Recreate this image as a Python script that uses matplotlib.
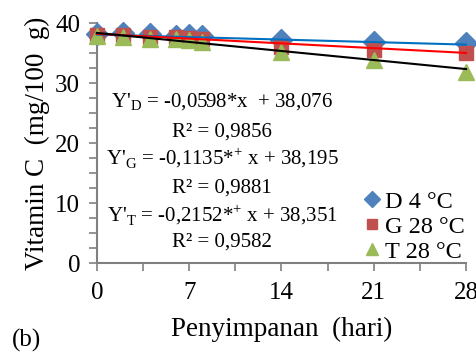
import matplotlib.pyplot as plt
import matplotlib
import numpy as np
from matplotlib.ticker import MultipleLocator

matplotlib.rcParams['font.family'] = ['Liberation Serif', 'DejaVu Serif']

# data
hari = [0, 2, 4, 6, 7, 8, 14, 21, 28]
vit_d = [38.2, 38.3, 38.1, 37.9, 38.0, 37.9, 37.2, 36.9, 36.7]
vit_g = [38.0, 38.0, 37.7, 37.7, 37.5, 37.3, 36.0, 35.5, 35.0]
vit_t = [37.9, 37.7, 37.3, 37.4, 37.1, 36.8, 35.1, 33.9, 31.8]

# trend coefficients (slope, intercept)
fit_d = (-0.0598, 38.076)
fit_g = (-0.1135, 38.195)
fit_t = (-0.2152, 38.351)

fig = plt.figure(figsize=(4.77, 3.54), dpi=100)
ax = fig.add_axes([0.203, 0.257, 0.774, 0.678])

grey = '#808080'
xx = np.array([0, 28])

ax.plot(hari, vit_d, linestyle='none', marker='D', ms=11, color='#4F81BD',
        label='D 4 °C', clip_on=False, zorder=3)
ax.plot(hari, vit_g, linestyle='none', marker='s', ms=9.5, color='#C0504D',
        label='G 28 °C', clip_on=False, zorder=4)
ax.plot(hari, vit_t, linestyle='none', marker='^', ms=11, color='#9BBB59',
        label='T 28 °C', clip_on=False, zorder=5)

ax.plot(xx, fit_d[0] * xx + fit_d[1], color='#0070C0', lw=1.5, zorder=6, clip_on=False)
ax.plot(xx, fit_g[0] * xx + fit_g[1], color='#FF0000', lw=1.5, zorder=6, clip_on=False)
ax.plot(xx, fit_t[0] * xx + fit_t[1], color='black', lw=1.5, zorder=6, clip_on=False)

ax.set_xlim(0, 28)
ax.set_ylim(0, 40)
ax.xaxis.set_major_locator(MultipleLocator(7))
ax.xaxis.set_minor_locator(MultipleLocator(3.5))
ax.yaxis.set_major_locator(MultipleLocator(10))
ax.yaxis.set_minor_locator(MultipleLocator(2.5))

for s in ['top', 'right']:
    ax.spines[s].set_visible(False)
for s in ['left', 'bottom']:
    ax.spines[s].set_color(grey)
    ax.spines[s].set_linewidth(1.5)
ax.tick_params(which='both', direction='out', color=grey, width=1.2, labelsize=18)
ax.tick_params(which='major', length=6, pad=6)
ax.tick_params(which='minor', length=6)
ax.tick_params(axis='x', which='major', pad=8)

ax.set_xlabel('Penyimpanan  (hari)', fontsize=19.5, labelpad=9)
ax.set_ylabel('Vitamin C  (mg/100  g)', fontsize=19.5, labelpad=4)

eq = [
    ("Y'$_\\mathregular{D}$ = -0,0598*x  + 38,076", 0.671),
    ("R² = 0,9856", 0.546),
    ("Y'$_\\mathregular{G}$ = -0,1135*$^\\mathregular{+}$ x + 38,195", 0.438),
    ("R² = 0,9881", 0.313),
    ("Y'$_\\mathregular{T}$ = -0,2152*$^\\mathregular{+}$ x + 38,351", 0.20),
    ("R² = 0,9582", 0.0875),
]
for txt, yy in eq:
    ax.text(0.339, yy, txt, transform=ax.transAxes, ha='center', va='center', fontsize=15)

ax.legend(loc='lower right', bbox_to_anchor=(1.035, -0.06), frameon=False, fontsize=17.5,
          handlelength=0.6, handletextpad=0.2, labelspacing=0.12, borderpad=0.1,
          markerscale=0.75)

fig.text(0.025, 0.02, '(b)', fontsize=18)

plt.savefig('out.png', dpi=100)
